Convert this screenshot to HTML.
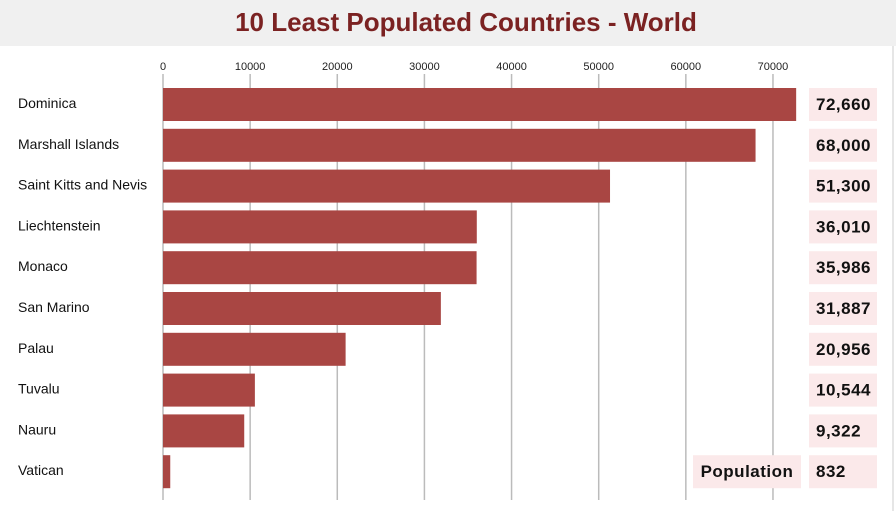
<!DOCTYPE html>
<html><head><meta charset="utf-8"><style>
body{margin:0;width:896px;height:511px;background:#fff;overflow:hidden;font-family:"Liberation Sans",sans-serif}
</style></head><body>
<svg width="896" height="511">
<rect x="0" y="0" width="896" height="46" fill="#f0f0f0"/>
<text x="466" y="31" text-anchor="middle" font-size="26" font-weight="bold" fill="#7b2222">10 Least Populated Countries - World</text>
<line x1="893" y1="46" x2="893" y2="511" stroke="#ccc"/>
<g id="grid"></g><g id="bars"></g>
</svg>
<script>
const categories=["Dominica","Marshall Islands","Saint Kitts and Nevis","Liechtenstein","Monaco","San Marino","Palau","Tuvalu","Nauru","Vatican"];
const values=[72660,68000,51300,36010,35986,31887,20956,10544,9322,832];
const ticks=[0,10000,20000,30000,40000,50000,60000,70000];
const NS="http://www.w3.org/2000/svg";
const x=v=>163+v*0.008714;
const y=i=>88+i*40.8;
function mk(t,a,p){const e=document.createElementNS(NS,t);for(const k in a)e.setAttribute(k,a[k]);p.appendChild(e);return e;}
const g=document.getElementById('grid'),b=document.getElementById('bars');
ticks.forEach(t=>{
 const l=mk('line',{x1:x(t),x2:x(t),y1:74,y2:500,stroke:'#bbb','stroke-width':1.5},g);
 
 
 const tx=mk('text',{x:x(t),y:70,'text-anchor':'middle','font-size':11,fill:'#222'},g);
 tx.textContent=t;
 
 
});
categories.forEach((c,i)=>{
 const r=mk('rect',{x:x(0),y:y(i),width:x(values[i])-x(0),height:33,fill:'#a94643'},b);
 
 
 const lb=mk('text',{x:18,y:y(i)+20,'font-size':14,fill:'#111'},b);
 lb.textContent=c;
 
 
 const bx=mk('rect',{x:809,y:y(i),width:68,height:33,fill:'#fbe9ea'},b);
 
 
 const vt=mk('text',{x:816,y:y(i)+22,'font-size':17,'font-weight':'bold',fill:'#111','letter-spacing':'0.5'},b);
 vt.textContent=values[i].toLocaleString('en-US');
 
 
});
const pb=mk('rect',{x:693,y:y(9),width:108,height:33,fill:'#fbe9ea'},b);


const pt=mk('text',{x:747,y:y(9)+22,'text-anchor':'middle','font-size':17,'font-weight':'bold',fill:'#111','letter-spacing':'0.5'},b);
pt.textContent='Population';


</script>
</body></html>
